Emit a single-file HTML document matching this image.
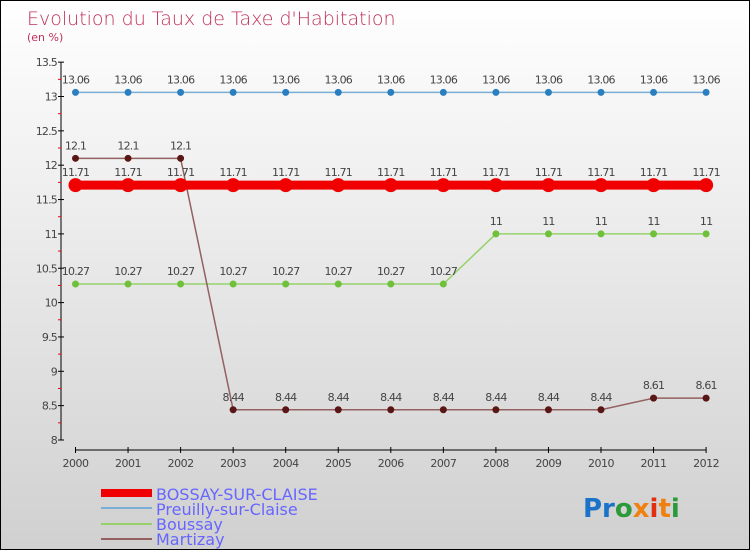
<!DOCTYPE html>
<html><head><meta charset="utf-8"><style>
body{margin:0}
#c{width:748px;height:548px;border:1px solid #000;background:linear-gradient(#fff,#d0d0d0);position:relative;font-family:"DejaVu Sans","Liberation Sans",sans-serif;overflow:hidden}
</style></head><body>
<div id="c">
<svg id="s" width="748" height="548">
<text x="26" y="24" font-size="19" fill="#c0305a" font-family="DejaVu Sans, sans-serif" font-weight="200">Evolution du Taux de Taxe d'Habitation</text>
<text x="26" y="40" font-size="11" fill="#c0305a">(en %)</text>
<g id="axes"></g><g id="series"></g>
<g>
<rect x="100" y="488" width="51" height="8" fill="#f00000"/>
<text x="155" y="499" font-size="16" fill="#6666ff">BOSSAY-SUR-CLAISE</text>
<rect x="100" y="506" width="51" height="2" fill="#7aaed4"/>
<text x="155" y="514" font-size="16" fill="#6666ff">Preuilly-sur-Claise</text>
<rect x="100" y="522" width="51" height="2" fill="#95d26a"/>
<text x="155" y="529" font-size="16" fill="#6666ff">Boussay</text>
<rect x="100" y="537" width="51" height="2" fill="#946060"/>
<text x="155" y="544" font-size="16" fill="#6666ff">Martizay</text>
</g>
<text x="582" y="516" font-size="26" font-weight="bold"><tspan fill="#1a73c8">Pr</tspan><tspan fill="#2a9a3a">o</tspan><tspan fill="#f08010">x</tspan><tspan fill="#e03010">i</tspan><tspan fill="#f08010">t</tspan><tspan fill="#2a9a3a">i</tspan></text>
</svg></div>
<script>
const years=[2000,2001,2002,2003,2004,2005,2006,2007,2008,2009,2010,2011,2012];
const bossay=[11.71,11.71,11.71,11.71,11.71,11.71,11.71,11.71,11.71,11.71,11.71,11.71,11.71];
const preuilly=[13.06,13.06,13.06,13.06,13.06,13.06,13.06,13.06,13.06,13.06,13.06,13.06,13.06];
const boussay=[10.27,10.27,10.27,10.27,10.27,10.27,10.27,10.27,11,11,11,11,11];
const martizay=[12.1,12.1,12.1,8.44,8.44,8.44,8.44,8.44,8.44,8.44,8.44,8.61,8.61];
const yTicks=[8,8.5,9,9.5,10,10.5,11,11.5,12,12.5,13,13.5];
const NS="http://www.w3.org/2000/svg";
const X=i=>74.5+i*52.55;
const Y=v=>439-(v-8)*68.7;
function mk(t,a,p){const e=document.createElementNS(NS,t);for(const k in a)e.setAttribute(k,a[k]);p.appendChild(e);return e;}
const ax=document.getElementById('axes');
let l=mk('line',{x1:60,y1:Y(13.5),x2:60,y2:Y(8),stroke:'#000'},ax);


l=mk('line',{x1:X(0),y1:449,x2:X(12),y2:449,stroke:'#000'},ax);


yTicks.forEach((v,i)=>{
 mk('line',{x1:57,y1:Y(v),x2:63,y2:Y(v),stroke:'#000'},ax);
 if(i<yTicks.length-1) mk('line',{x1:57,y1:Y(v+0.25),x2:60,y2:Y(v+0.25),stroke:'#f00'},ax);
 const t=mk('text',{x:56,y:Y(v)+4,'font-size':11,'text-anchor':'end',fill:'#444','letter-spacing':'-0.8'},ax);
 t.textContent=v;
 
 
});
years.forEach((y,i)=>{
 mk('line',{x1:X(i),y1:446,x2:X(i),y2:452,stroke:'#000'},ax);
 const t=mk('text',{x:X(i),y:466,'font-size':11,'text-anchor':'middle',fill:'#444','letter-spacing':'-0.5'},ax);
 t.textContent=y;
 
 
});
const sg=document.getElementById('series');
function draw(name,vals,color,dot,lw,r,lab){
 const g=mk('g',{},sg);
 
 
 mk('polyline',{points:vals.map((v,i)=>X(i)+','+Y(v)).join(' '),fill:'none',stroke:color,'stroke-width':lw},g);
 vals.forEach((v,i)=>{
  const c=mk('circle',{cx:X(i),cy:Y(v),r:r,fill:dot},g);
  
  
  const t=mk('text',{x:X(i),y:Y(v)-9,'font-size':11,'text-anchor':'middle',fill:'#444','letter-spacing':'-0.8'},g);
  t.textContent=v;
  
  
 });
}
draw('preuilly',preuilly,'#7aaed4','#2a7fc0',1.5,3.5);
draw('boussay',boussay,'#95d26a','#6fc03a',1.5,3.5);
draw('martizay',martizay,'#946060','#5a1515',1.5,3.5);
draw('bossay-sur-claise',bossay,'#f00000','#f00000',9,7);
</script>
</body></html>
